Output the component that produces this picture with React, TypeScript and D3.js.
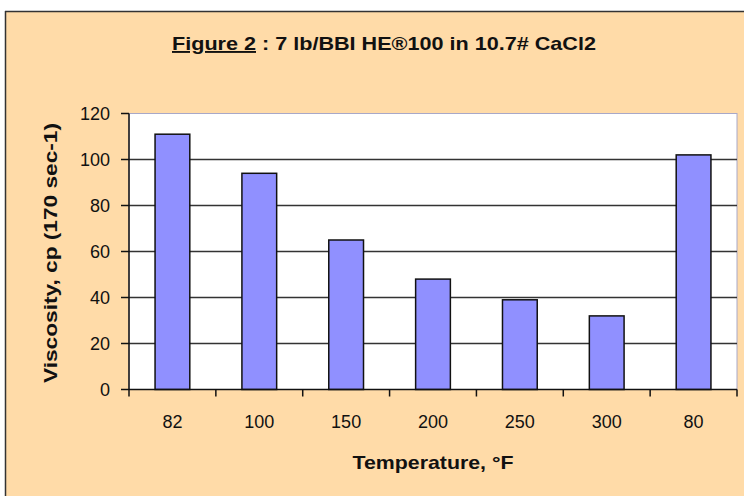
import React from "react";
import * as d3 from "d3";

const categories = ["82", "100", "150", "200", "250", "300", "80"];
const values = [111, 94, 65, 48, 39, 32, 102];
const yTicks = [0, 20, 40, 60, 80, 100, 120];
const titleMain = "Figure 2";
const titleRest = " : 7 lb/BBI HE®100 in 10.7# CaCl2";
const xTitle = "Temperature, °F";
const yTitle = "Viscosity, cp (170 sec-1)";

const W = 744;
const H = 496;
const plot = { left: 129, right: 737, top: 113.5, bottom: 389.5 };
const font = "'Liberation Sans', Arial, sans-serif";

export default function App() {
  const x = d3
    .scaleBand<string>()
    .domain(categories)
    .range([plot.left, plot.right])
    .paddingInner(0.6)
    .paddingOuter(0.3);
  const y = d3.scaleLinear().domain([0, 120]).range([plot.bottom, plot.top]);
  const step = x.step();
  const boundaries = d3.range(categories.length + 1).map((i) => plot.left + i * step);

  return (
    <svg
      width={W}
      height={H}
      style={{ position: "fixed", left: 0, top: 0, display: "block" }}
      fontFamily={font}
    >
      <rect x={0} y={0} width={W} height={H} fill="#ffffff" />
      <rect x={5} y={11} width={W} height={H} fill="#FFDBA8" />
      <line x1={5} y1={11.5} x2={W} y2={11.5} stroke="#333" strokeWidth={1.5} />
      <line x1={5.5} y1={11} x2={5.5} y2={H} stroke="#333" strokeWidth={1.5} />

      <text
        x={384}
        y={50}
        textAnchor="middle"
        fontWeight="bold"
        fontSize={19}
        fill="#111"
        textLength={424}
        lengthAdjust="spacingAndGlyphs"
      >
        <tspan textDecoration="underline">{titleMain}</tspan>
        {titleRest}
      </text>

      {/* plot area */}
      <rect
        x={plot.left}
        y={plot.top}
        width={plot.right - plot.left}
        height={plot.bottom - plot.top}
        fill="#ffffff"
        stroke="#A8A8C8"
        strokeWidth={1}
      />
      {yTicks
        .filter((t) => t > 0 && t < 120)
        .map((t) => (
          <line
            key={"g" + t}
            x1={plot.left}
            x2={plot.right}
            y1={y(t)}
            y2={y(t)}
            stroke="#333"
            strokeWidth={1.3}
          />
        ))}

      {categories.map((c, i) => (
        <rect
          key={c + i}
          x={x(c)}
          y={y(values[i])}
          width={x.bandwidth()}
          height={y(0) - y(values[i])}
          fill="#9090FF"
          stroke="#111"
          strokeWidth={1.5}
        />
      ))}

      {/* y axis */}
      <line x1={plot.left} x2={plot.left} y1={plot.top} y2={plot.bottom} stroke="#111" strokeWidth={1.5} />
      {yTicks.map((t) => (
        <g key={"y" + t}>
          <line x1={plot.left - 8} x2={plot.left} y1={y(t)} y2={y(t)} stroke="#111" strokeWidth={1.5} />
          <text x={110} y={y(t) + 6.5} textAnchor="end" fontSize={18} fill="#111">
            {t}
          </text>
        </g>
      ))}

      {/* x axis */}
      <line x1={plot.left} x2={plot.right} y1={plot.bottom} y2={plot.bottom} stroke="#111" strokeWidth={1.5} />
      {boundaries.map((b, i) => (
        <line key={"xt" + i} x1={b} x2={b} y1={plot.bottom} y2={plot.bottom + 7} stroke="#111" strokeWidth={1.5} />
      ))}
      {categories.map((c, i) => (
        <text
          key={"xl" + i}
          x={(x(c) as number) + x.bandwidth() / 2}
          y={428}
          textAnchor="middle"
          fontSize={18}
          fill="#111"
        >
          {c}
        </text>
      ))}

      <text
        x={433}
        y={469}
        textAnchor="middle"
        fontWeight="bold"
        fontSize={19}
        fill="#111"
        textLength={161}
        lengthAdjust="spacingAndGlyphs"
      >
        {xTitle}
      </text>
      <text
        transform={`translate(57,253) rotate(-90)`}
        textAnchor="middle"
        fontWeight="bold"
        fontSize={19}
        fill="#111"
        textLength={260}
        lengthAdjust="spacingAndGlyphs"
      >
        {yTitle}
      </text>
    </svg>
  );
}
